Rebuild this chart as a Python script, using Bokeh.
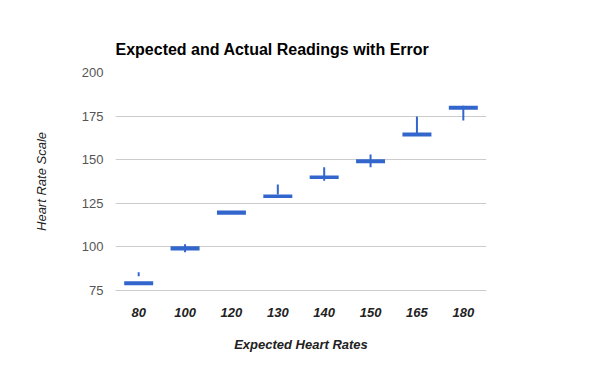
from bokeh.plotting import figure
from bokeh.models import FactorRange, Range1d, FixedTicker, ColumnDataSource
from bokeh.embed import file_html
from bokeh.resources import INLINE

categories = ["80", "100", "120", "130", "140", "150", "165", "180"]
box_low = [78, 98, 118.5, 128, 139, 148, 163.3, 178.6]
box_high = [80.3, 100.4, 120.8, 130.1, 141, 150.2, 165.6, 180.9]
wick_low = [83.2, 97, 119, 130, 138, 145.6, 165, 172.5]
wick_high = [85.5, 101.5, 120, 135.8, 145.6, 153, 174.8, 181]
y_ticks = [75, 100, 125, 150, 175, 200]

FONT = "Liberation Sans"
BLUE = "#3366CC"

src = ColumnDataSource(dict(cat=categories, bl=box_low, bh=box_high, wl=wick_low, wh=wick_high))

p = figure(width=592, height=363, output_backend="svg", toolbar_location=None,
           x_range=FactorRange(*categories), y_range=Range1d(y_ticks[0], y_ticks[-1]),
           min_border_left=115, min_border_right=106, min_border_top=72, min_border_bottom=73,
           title="Expected and Actual Readings with Error")

p.segment(x0="cat", x1="cat", y0="wl", y1="wh", source=src, line_color=BLUE, line_width=2)
p.vbar(x="cat", top="bh", bottom="bl", width=0.625, source=src, fill_color=BLUE, line_color=None)

p.outline_line_color = None
p.background_fill_color = "white"
p.border_fill_color = "white"

p.title.text_font = FONT
p.title.text_font_size = "16px"
p.title.text_font_style = "bold"
p.title.text_color = "#000000"
p.title.align = "left"
p.title.standoff = 29

p.xgrid.grid_line_color = None
p.ygrid.grid_line_color = "#CCCCCC"
p.ygrid.grid_line_width = 1

p.yaxis.ticker = FixedTicker(ticks=y_ticks)
for ax in (p.xaxis[0], p.yaxis[0]):
    ax.axis_line_color = None
    ax.major_tick_line_color = None
    ax.minor_tick_line_color = None
    ax.major_tick_out = 0
    ax.major_tick_in = 0
    ax.major_label_text_font = FONT
    ax.major_label_text_font_size = "13px"
    ax.axis_label_text_font = FONT
    ax.axis_label_text_font_size = "13px"
    ax.axis_label_text_color = "#222222"

# baseline at 75 drawn as the x axis line (gridline colour)
p.xaxis.axis_line_color = "#CCCCCC"
p.xaxis.axis_line_width = 1

p.xaxis.major_label_text_font_style = "bold italic"
p.xaxis.major_label_text_color = "#222222"
p.xaxis.major_label_standoff = 17
p.xaxis.axis_label = "Expected Heart Rates"
p.xaxis.axis_label_text_font_style = "bold italic"
p.xaxis.axis_label_standoff = 17

p.yaxis.major_label_text_color = "#555555"
p.yaxis.major_label_text_font_style = "normal"
p.yaxis.major_label_standoff = 12
p.yaxis.axis_label = "Heart Rate Scale"
p.yaxis.axis_label_text_font_style = "italic"
p.yaxis.axis_label_standoff = 30

open("out.html", "w").write(file_html(p, INLINE))
